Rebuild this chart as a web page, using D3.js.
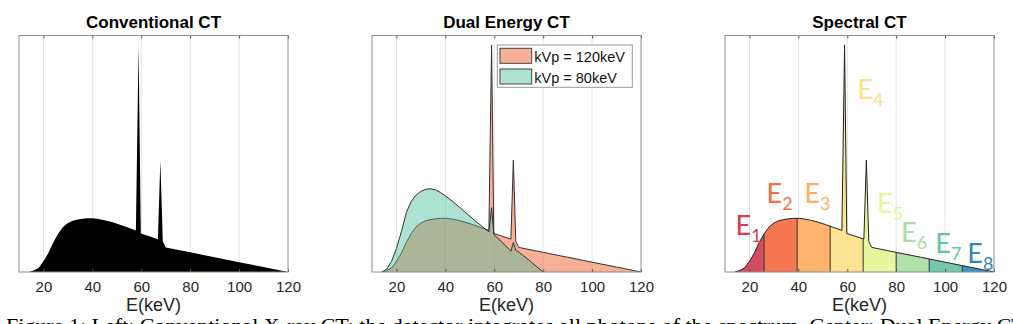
<!DOCTYPE html>
<html>
<head>
<meta charset="utf-8">
<script src="https://cdn.jsdelivr.net/npm/d3@7"></script>
<style>
  body { margin: 0; background: #fff; }
  svg { display: block; font-family: "Liberation Sans", Arial, sans-serif; }
</style>
</head>
<body>
<svg id="chart"></svg>
<script>
// x-ray tube spectra (keV vs relative counts)
const energy120 = [14, 16, 18, 20, 22, 24, 26, 28, 30, 32, 34, 36, 38, 40, 42, 45, 48, 51, 54,
  57.8, 58.9, 59.8, 63, 66.8, 67.8, 68.8, 70, 80, 90, 100, 110, 120];
const counts120 = [0, 0.006, 0.017, 0.045, 0.08, 0.125, 0.162, 0.19, 0.207, 0.217, 0.222, 0.225, 0.227, 0.227, 0.225, 0.219, 0.211, 0.201, 0.19,
  0.176, 0.96, 0.163, 0.152, 0.139, 0.473, 0.13, 0.104, 0.083, 0.0625, 0.0415, 0.021, 0];

const energy80 = [14, 16, 18, 20, 22, 24, 26, 28, 30, 32, 34, 36, 38, 40, 43, 46, 49, 52, 55,
  57.8, 58.9, 59.8, 63, 66.8, 67.8, 68.8, 70, 75, 80];
const counts80 = [0, 0.012, 0.045, 0.1, 0.17, 0.25, 0.298, 0.325, 0.341, 0.35, 0.352, 0.347, 0.336, 0.322, 0.298, 0.272, 0.245, 0.218, 0.193,
  0.17, 0.272, 0.158, 0.128, 0.088, 0.125, 0.092, 0.085, 0.043, 0];

const xTicks = [20, 40, 60, 80, 100, 120];
const panelTitles = ["Conventional CT", "Dual Energy CT", "Spectral CT"];
const legendLabels = ["kVp = 120keV", "kVp = 80keV"];

// energy bins of the photon counting detector
const binEdges = [10, 26, 39.5, 53, 66.5, 80, 93.5, 107, 120];
const binNames = ["1", "2", "3", "4", "5", "6", "7", "8"];
const binColors = ["#d53e4f", "#f46d43", "#fdae61", "#fee08b", "#e6f598", "#abdda4", "#66c2a5", "#3288bd"];
// label anchors in data units [keV, counts]
const binLabelAt = [[14.3, 0.156], [27, 0.29], [42.5, 0.291], [64.1, 0.733],
  [72.2, 0.249], [82, 0.125], [96, 0.08], [109.1, 0.038]];

const width = 1013, height = 324;
const plotTop = 35.5, plotBottom = 272, panelW = 269;
const panelLeft = [19, 372, 725];

const svg = d3.select("#chart").attr("width", width).attr("height", height);
const defs = svg.append("defs");

const yScale = d3.scaleLinear().domain([0, 1]).range([plotBottom, plotTop]);

const spec120 = energy120.map((e, i) => [e, counts120[i]]);
const spec80 = energy80.map((e, i) => [e, counts80[i]]);

function makePanel(i) {
  const x = d3.scaleLinear().domain([10, 120]).range([panelLeft[i], panelLeft[i] + panelW]);
  const g = svg.append("g");

  // grid
  g.append("g").selectAll("line")
    .data(xTicks.slice(0, -1))
    .join("line")
    .attr("x1", d => x(d)).attr("x2", d => x(d))
    .attr("y1", plotTop).attr("y2", plotBottom)
    .attr("stroke", "#e3e3e3")
    .attr("stroke-width", 1);

  defs.append("clipPath").attr("id", "plot" + i)
    .append("rect")
    .attr("x", x(10)).attr("y", plotTop)
    .attr("width", panelW).attr("height", plotBottom - plotTop);

  const plot = g.append("g").attr("clip-path", `url(#plot${i})`);
  const area = d3.area().x(d => x(d[0])).y0(yScale(0)).y1(d => yScale(d[1]));
  const line = d3.line().x(d => x(d[0])).y(d => yScale(d[1]));

  g.append("text")
    .attr("x", x(65)).attr("y", 28)
    .attr("text-anchor", "middle")
    .attr("font-size", 17).attr("font-weight", "bold")
    .text(panelTitles[i]);

  g.append("text")
    .attr("x", x(65)).attr("y", 311)
    .attr("text-anchor", "middle")
    .attr("font-size", 18).attr("fill", "#262626")
    .text("E(keV)");

  return { g, plot, x, area, line };
}

function finishPanel(p) {
  const axB = p.g.append("g")
    .attr("transform", `translate(0,${plotBottom})`)
    .call(d3.axisBottom(p.x).tickValues(xTicks).tickSize(-3).tickPadding(9));
  axB.select(".domain").remove();
  axB.selectAll("line").attr("stroke", "#555");
  axB.selectAll("text").attr("font-size", 15).attr("fill", "#262626")
    .attr("font-family", "Liberation Sans, Arial, sans-serif");

  const axT = p.g.append("g")
    .attr("transform", `translate(0,${plotTop})`)
    .call(d3.axisTop(p.x).tickValues(xTicks).tickSize(-3).tickFormat(""));
  axT.select(".domain").remove();
  axT.selectAll("line").attr("stroke", "#555");

  p.g.append("rect")
    .attr("x", p.x(10)).attr("y", plotTop)
    .attr("width", panelW).attr("height", plotBottom - plotTop)
    .attr("fill", "none")
    .attr("stroke", "#8c8c8c")
    .attr("stroke-width", 1);
}

// --- Conventional CT
const p1 = makePanel(0);
p1.plot.append("path").datum(spec120)
  .attr("d", p1.area)
  .attr("fill", "#000");
finishPanel(p1);

// --- Dual Energy CT
const p2 = makePanel(1);
const dualColors = ["rgb(242,122,80)", "rgb(77,188,155)"];
const dualAlpha = [0.6, 0.45];
[spec120, spec80].forEach((s, k) => {
  p2.plot.append("path").datum(s)
    .attr("d", p2.area)
    .attr("fill", dualColors[k])
    .attr("fill-opacity", dualAlpha[k]);
  p2.plot.append("path").datum(s)
    .attr("d", p2.line)
    .attr("fill", "none")
    .attr("stroke", "#333")
    .attr("stroke-width", 1);
});
finishPanel(p2);

const legend = p2.g.append("g").attr("transform", `translate(${panelLeft[1] + 125.3},45)`);
legend.append("rect")
  .attr("width", 135).attr("height", 42.3)
  .attr("fill", "#fff").attr("stroke", "#999");
legendLabels.forEach((lab, k) => {
  legend.append("rect")
    .attr("x", 2.7).attr("y", 3.3 + k * 20.7)
    .attr("width", 31.7).attr("height", 15)
    .attr("fill", dualColors[k]).attr("fill-opacity", dualAlpha[k])
    .attr("stroke", "#444");
  legend.append("text")
    .attr("x", 37).attr("y", 16.7 + k * 21)
    .attr("font-size", 14.5).attr("fill", "#111")
    .text(lab);
});

// --- Spectral CT
const p3 = makePanel(2);
defs.append("clipPath").attr("id", "specArea")
  .append("path").datum(spec120).attr("d", p3.area);

binColors.forEach((c, k) => {
  defs.append("clipPath").attr("id", "bin" + k)
    .append("rect")
    .attr("x", p3.x(binEdges[k])).attr("y", plotTop)
    .attr("width", p3.x(binEdges[k + 1]) - p3.x(binEdges[k]))
    .attr("height", plotBottom - plotTop);
  p3.plot.append("path").datum(spec120)
    .attr("d", p3.area)
    .attr("clip-path", `url(#bin${k})`)
    .attr("fill", c)
    .attr("fill-opacity", 0.92);
});

p3.plot.append("g").attr("clip-path", "url(#specArea)")
  .selectAll("line")
  .data(binEdges.slice(1, -1))
  .join("line")
  .attr("x1", d => p3.x(d)).attr("x2", d => p3.x(d))
  .attr("y1", plotTop).attr("y2", plotBottom)
  .attr("stroke", "#333").attr("stroke-width", 1);

p3.plot.append("path").datum(spec120)
  .attr("d", p3.line)
  .attr("fill", "none")
  .attr("stroke", "#222")
  .attr("stroke-width", 1);
finishPanel(p3);

binNames.forEach((n, k) => {
  const t = p3.g.append("text")
    .attr("x", p3.x(binLabelAt[k][0]))
    .attr("y", yScale(binLabelAt[k][1]))
    .attr("fill", binColors[k])
    .attr("font-family", "Lato, 'Open Sans', sans-serif")
    .attr("font-size", 27);
  t.append("tspan").text("E");
  t.append("tspan").attr("dy", 7).attr("font-size", 18).text(n);
});

// figure caption, cut off by the bottom edge
svg.append("text")
  .attr("x", 6).attr("y", 333)
  .attr("font-family", "Liberation Serif, serif")
  .attr("font-size", 22)
  .text("Figure 1: Left: Conventional X-ray CT: the detector integrates all photons of the spectrum. Center: Dual Energy CT");
</script>
</body>
</html>
